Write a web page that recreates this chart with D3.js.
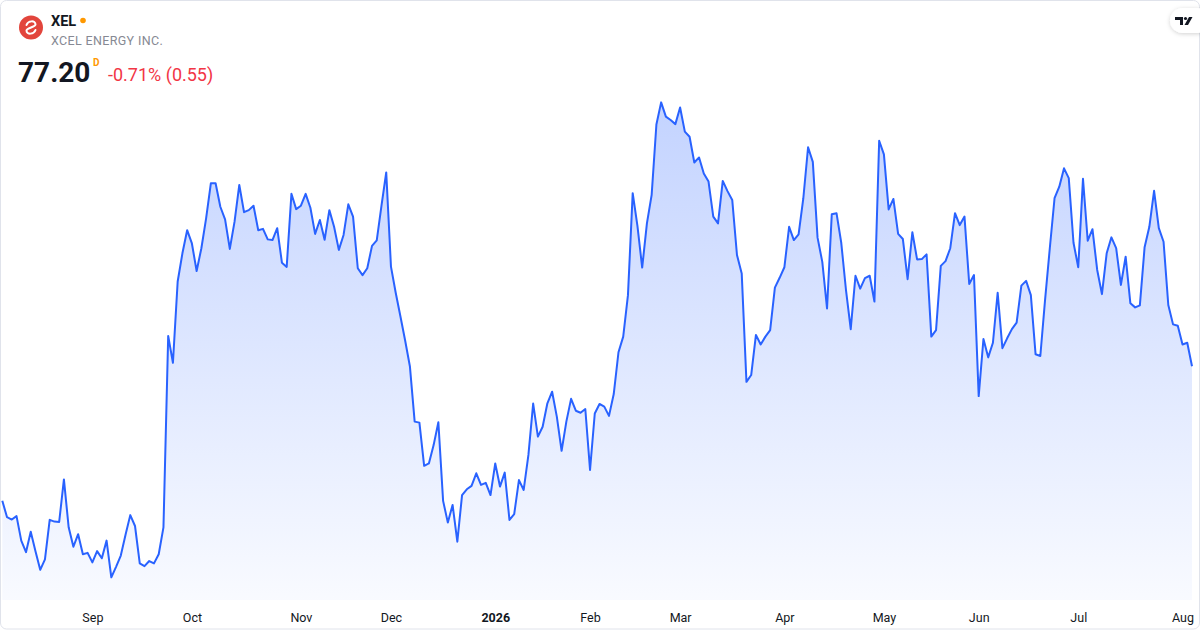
<!DOCTYPE html>
<html>
<head>
<meta charset="utf-8">
<script src="https://cdn.jsdelivr.net/npm/d3@7"></script>
<style>
  html, body { margin: 0; padding: 0; background: #ffffff; }
  #chart { width: 1200px; height: 630px; }
  text { font-family: Roboto, "Noto Sans", sans-serif; }
</style>
</head>
<body>
<div id="chart"></div>
<script>
// Constant
const width = 1200;
const height = 630;
const lineColor = `#2962ff`;
const fontColor = `#131722`;

// daily closes, one per trading day starting 2025-08-05
const closes = [
  73.24, 72.76, 72.69, 72.79, 72.07, 71.73, 72.33, 71.76, 71.21, 71.52,
  72.68, 72.63, 72.62, 73.87, 72.46, 71.89, 72.26, 71.67, 71.71, 71.43,
  71.76, 71.55, 72.07, 70.99, 71.30, 71.63, 72.24, 72.82, 72.50, 71.40,
  71.32, 71.47, 71.40, 71.67, 72.46, 78.09, 77.30, 79.69, 80.52, 81.20,
  80.81, 80.00, 80.67, 81.55, 82.58, 82.58, 81.89, 81.52, 80.65, 81.45,
  82.53, 81.73, 81.79, 81.92, 81.20, 81.24, 80.93, 80.91, 81.26, 80.24,
  80.12, 82.27, 81.82, 81.92, 82.27, 81.86, 81.09, 81.50, 80.92, 81.79,
  81.30, 80.62, 81.06, 81.96, 81.60, 80.08, 79.88, 80.08, 80.74, 80.90,
  81.92, 82.90, 80.13, 79.36, 78.66, 77.95, 77.19, 75.57, 75.54, 74.27,
  74.34, 74.88, 75.55, 73.24, 72.60, 73.12, 72.04, 73.41, 73.58, 73.68,
  74.05, 73.71, 73.77, 73.41, 74.34, 73.66, 74.07, 72.68, 72.85, 73.85,
  73.56, 74.59, 76.10, 75.13, 75.42, 76.11, 76.45, 75.71, 74.71, 75.57,
  76.24, 75.89, 75.83, 75.94, 74.15, 75.81, 76.09, 76.01, 75.74, 76.38,
  77.61, 78.07, 79.29, 82.29, 81.33, 80.10, 81.40, 82.24, 84.31, 84.96,
  84.54, 84.44, 84.32, 84.81, 84.10, 83.95, 83.19, 83.34, 82.87, 82.63,
  81.60, 81.40, 82.65, 82.35, 82.09, 80.47, 79.93, 76.74, 76.94, 78.12,
  77.84, 78.07, 78.26, 79.51, 79.80, 80.11, 81.30, 80.91, 81.08, 82.14,
  83.64, 83.21, 80.98, 80.27, 78.90, 81.67, 81.70, 80.83, 79.44, 78.29,
  79.86, 79.48, 79.79, 79.86, 79.10, 83.83, 83.43, 81.81, 82.12, 81.09,
  80.94, 79.76, 81.14, 80.34, 80.35, 80.49, 78.07, 78.26, 80.15, 80.29,
  80.67, 81.70, 81.35, 81.60, 79.62, 79.88, 76.32, 78.00, 77.46, 77.89,
  79.36, 77.73, 78.02, 78.29, 78.48, 79.57, 79.71, 79.29, 77.55, 77.50,
  79.15, 80.67, 82.14, 82.48, 83.02, 82.73, 80.83, 80.11, 82.71, 80.89,
  81.23, 80.03, 79.32, 80.52, 80.99, 80.67, 79.59, 80.42, 79.05, 78.93,
  78.99, 80.70, 81.30, 82.36, 81.26, 80.86, 79.00, 78.43, 78.39, 77.84,
  77.89, 77.20
];

const startDate = `2025-08-05`;
const holidays = [`2025-09-01`, `2025-11-27`, `2025-12-25`, `2026-01-01`, `2026-01-19`,
                  `2026-02-16`, `2026-04-03`, `2026-05-25`, `2026-06-19`, `2026-07-03`];
const monthNames = [`Jan`, `Feb`, `Mar`, `Apr`, `May`, `Jun`, `Jul`, `Aug`, `Sep`, `Oct`, `Nov`, `Dec`];

const symbol = `XEL`;
const companyName = `XCEL ENERGY INC.`;
const lastPrice = `77.20`;
const changeText = `-0.71% (0.55)`;

// trading day calendar for the x axis
const fmt = d3.utcFormat(`%Y-%m-%d`);
const dates = [];
let day = new Date(startDate + `T00:00:00Z`);
while (dates.length < closes.length) {
    const wd = day.getUTCDay();
    if (wd != 0 && wd != 6 && !holidays.includes(fmt(day))) dates.push(new Date(day));
    day = d3.utcDay.offset(day, 1);
}
const monthStarts = [];
dates.forEach((d, i) => {
    if (i > 0 && d.getUTCMonth() != dates[i - 1].getUTCMonth()) monthStarts.push(i);
});

const xScale = d3.scaleLinear()
                .domain([0, closes.length - 1])
                .range([2.3, 1192]);
const yScale = d3.scaleLinear()
                .domain([71, 85])
                .range([577, 101]);
const plotBottom = 600;

const svg = d3.select(`#chart`)
            .append(`svg`)
                .attr(`width`, width)
                .attr(`height`, height);

const defs = svg.append(`defs`);
const grad = defs.append(`linearGradient`)
        .attr(`id`, `areaFill`)
        .attr(`gradientUnits`, `userSpaceOnUse`)
        .attr(`x1`, 0).attr(`x2`, 0)
        .attr(`y1`, yScale(d3.max(closes))).attr(`y2`, plotBottom);
grad.append(`stop`).attr(`offset`, `0%`).attr(`stop-color`, lineColor).attr(`stop-opacity`, 0.28);
grad.append(`stop`).attr(`offset`, `100%`).attr(`stop-color`, lineColor).attr(`stop-opacity`, 0.03);

const shadow = defs.append(`filter`).attr(`id`, `pillShadow`)
        .attr(`x`, `-50%`).attr(`y`, `-50%`).attr(`width`, `200%`).attr(`height`, `200%`);
shadow.append(`feDropShadow`).attr(`dx`, 0).attr(`dy`, 1).attr(`stdDeviation`, 2)
        .attr(`flood-color`, `#000`).attr(`flood-opacity`, 0.18);

// card border
svg.append(`rect`)
    .attr(`x`, 0.5).attr(`y`, 0.5)
    .attr(`width`, width - 1).attr(`height`, height - 1.5)
    .attr(`rx`, 6)
    .attr(`fill`, `#ffffff`)
    .attr(`stroke`, `#e0e3eb`);

// area + line
svg.append(`path`)
    .datum(closes)
    .attr(`fill`, `url(#areaFill)`)
    .attr(`d`, d3.area()
        .x((d, i) => xScale(i))
        .y0(plotBottom)
        .y1(d => yScale(d)));

svg.append(`path`)
    .datum(closes)
    .attr(`fill`, `none`)
    .attr(`stroke`, lineColor)
    .attr(`stroke-width`, 2)
    .attr(`stroke-linejoin`, `round`)
    .attr(`d`, d3.line()
        .x((d, i) => xScale(i))
        .y(d => yScale(d)));

// x axis with month labels
const xAxis = svg.append(`g`)
    .attr(`transform`, `translate(0, ${plotBottom})`)
    .call(d3.axisBottom(xScale)
        .tickValues(monthStarts)
        .tickSize(0)
        .tickPadding(13)
        .tickFormat(i => dates[i].getUTCMonth() == 0 ? `${dates[i].getUTCFullYear()}` : monthNames[dates[i].getUTCMonth()]))
    .call(g => g.select(`.domain`).remove());

xAxis.selectAll(`.tick text`)
    .style(`font-family`, `Roboto, sans-serif`)
    .style(`font-size`, `12.5px`)
    .attr(`fill`, fontColor)
    .style(`font-weight`, i => dates[i].getUTCMonth() == 0 ? `700` : `400`);

// header: logo
const logo = svg.append(`g`).attr(`transform`, `translate(31, 27.5)`);
logo.append(`circle`).attr(`r`, 12).attr(`fill`, `#e2453c`);
logo.append(`path`)
    .attr(`d`, `M -4.5 -2.5 C -3 -7, 4.5 -7.5, 4.5 -3 C 4.5 -0.5, -4.5 0.5, -4.5 3 C -4.5 7.5, 3 7, 4.5 2.5`)
    .attr(`fill`, `none`)
    .attr(`stroke`, `#ffffff`)
    .attr(`stroke-width`, 2)
    .attr(`stroke-linecap`, `round`);

svg.append(`text`)
    .attr(`x`, 51).attr(`y`, 25.5)
    .style(`font-size`, `14.5px`).style(`font-weight`, `700`)
    .attr(`fill`, fontColor)
    .text(symbol);

svg.append(`circle`)
    .attr(`cx`, 83).attr(`cy`, 20.5).attr(`r`, 2.8)
    .attr(`fill`, `#ff9800`);

svg.append(`text`)
    .attr(`x`, 51).attr(`y`, 45)
    .style(`font-size`, `12.5px`)
    .style(`letter-spacing`, `0.35px`)
    .attr(`fill`, `#868993`)
    .text(companyName);

svg.append(`text`)
    .attr(`x`, 18).attr(`y`, 82)
    .style(`font-size`, `28px`).style(`font-weight`, `700`)
    .attr(`fill`, fontColor)
    .text(lastPrice);

svg.append(`text`)
    .attr(`x`, 93).attr(`y`, 66)
    .style(`font-size`, `10px`).style(`font-weight`, `700`)
    .attr(`fill`, `#ff9800`)
    .text(`D`);

svg.append(`text`)
    .attr(`x`, 108).attr(`y`, 81)
    .style(`font-size`, `18px`)
    .attr(`fill`, `#f23645`)
    .text(changeText);

// TradingView badge, top right
const badge = svg.append(`g`).attr(`transform`, `translate(1170, 8)`);
badge.append(`rect`)
    .attr(`width`, 40).attr(`height`, 25).attr(`rx`, 12.5)
    .attr(`fill`, `#ffffff`)
    .attr(`filter`, `url(#pillShadow)`);
badge.append(`path`)
    .attr(`d`, `M 5 9 H 13 V 17 H 10 V 12 H 5 Z`)
    .attr(`fill`, fontColor);
badge.append(`circle`).attr(`cx`, 15.5).attr(`cy`, 10.5).attr(`r`, 1.6).attr(`fill`, fontColor);
badge.append(`path`)
    .attr(`d`, `M 19 9 H 22.5 L 18 17 H 14.5 Z`)
    .attr(`fill`, fontColor);
</script>
</body>
</html>
